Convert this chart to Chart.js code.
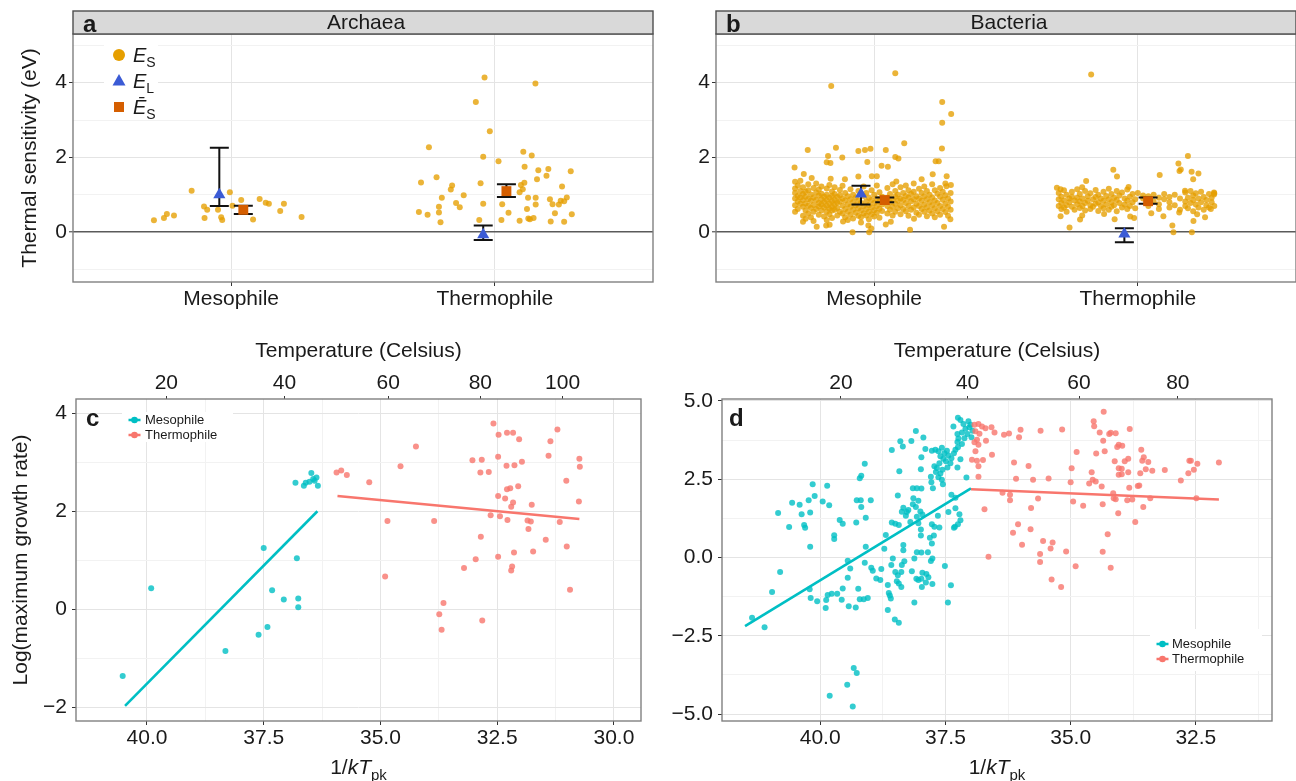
<!DOCTYPE html>
<html>
<head>
<meta charset="utf-8">
<script src="https://cdn.jsdelivr.net/npm/chart.js@4.4.1/dist/chart.umd.min.js"></script>
<style>
html,body{margin:0;padding:0;background:#fff;}
#wrap{position:relative;width:1296px;height:781px;overflow:hidden;background:#fff;}
canvas{position:absolute;}
</style>
</head>
<body>
<div id="wrap">
<canvas id="pa" width="660" height="320" style="left:0;top:0;"></canvas>
<canvas id="pb" width="660" height="320" style="left:643px;top:0;"></canvas>
<canvas id="pc" width="660" height="451" style="left:0;top:330px;"></canvas>
<canvas id="pd" width="636" height="451" style="left:660px;top:330px;"></canvas>
</div>
<script>
// ---------------- DATA ----------------
const categories = ['Mesophile', 'Thermophile'];
const seriesNames = ['Mesophile', 'Thermophile'];
const sensYTicks = [-1, 0, 1, 2, 3, 4, 5];

// panel a (Archaea): [jittered category position, E_S]
const archaeaMesoES = [[0.707,0.32],[0.745,0.38],[0.756,0.49],[0.783,0.45],[0.850,1.11],[0.897,0.69],[0.909,0.60],[0.899,0.38],[0.950,0.60],[0.962,0.40],[0.966,0.33],[0.995,1.07],[1.005,0.71],[1.038,0.86],[1.083,0.34],[1.108,0.89],[1.131,0.79],[1.143,0.76],[1.186,0.57],[1.200,0.76],[1.267,0.41]];
const archaeaThermoES = [[1.961,4.14],[2.154,3.98],[1.928,3.48],[1.981,2.70],[1.750,2.27],[1.956,2.02],[2.014,1.90],[2.108,2.15],[2.140,2.05],[2.113,1.75],[2.165,1.66],[2.203,1.69],[2.288,1.63],[2.160,1.42],[2.196,1.51],[1.720,1.33],[1.779,1.47],[1.838,1.25],[1.833,1.14],[1.946,1.31],[2.112,1.32],[2.099,1.26],[2.106,1.15],[2.094,1.07],[2.255,1.22],[1.799,0.92],[1.882,0.99],[1.853,0.78],[1.867,0.67],[1.788,0.68],[1.788,0.53],[1.712,0.54],[1.745,0.47],[1.794,0.27],[1.956,0.76],[1.941,0.33],[2.028,0.75],[2.052,0.52],[2.025,0.33],[2.094,0.31],[2.126,0.92],[2.155,0.92],[2.122,0.62],[2.155,0.74],[2.127,0.37],[2.147,0.38],[2.133,0.35],[2.209,0.88],[2.219,0.75],[2.243,0.74],[2.250,0.84],[2.263,0.83],[2.273,0.93],[2.228,0.51],[2.292,0.48],[2.212,0.29],[2.263,0.28]];
// [position, estimate, lower, upper]
const archaeaEL = [[0.955,1.00,0.70,2.26],[1.956,-0.07,-0.21,0.18]];
const archaeaMeanES = [[1.046,0.60,0.49,0.71],[2.044,1.10,0.94,1.28]];

// panel b (Bacteria)
const bacteriaMesoES = [[1.080,4.25],[0.837,3.91],[1.258,3.48],[1.292,3.16],[1.258,2.93],[1.114,2.38],[0.748,2.20],[0.855,2.26],[0.940,2.17],[0.965,2.20],[0.986,2.23],[1.044,2.20],[1.257,2.24],[0.825,2.04],[0.879,2.00],[0.820,1.87],[0.834,1.85],[0.974,1.88],[1.080,2.01],[1.092,1.97],[1.233,1.90],[1.245,1.90],[0.698,1.73],[1.028,1.78],[1.052,1.75],[0.733,1.56],[0.763,1.45],[0.991,1.50],[1.010,1.50],[0.940,1.49],[1.222,1.55],[1.275,1.50],[1.084,1.36],[1.180,1.42],[0.835,1.43],[0.889,1.42],[1.291,1.26],[1.274,1.23],[0.918,0.00],[0.981,0.00],[0.978,0.18],[0.989,0.10],[1.136,0.07],[1.265,0.15],[0.782,0.15],[0.818,0.18],[0.831,0.20],[0.882,0.29],[0.950,0.26],[1.044,0.21],[1.063,0.28],[0.730,0.28],[1.289,0.35],[1.151,0.36],
[0.70,1.35],[0.70,1.17],[0.70,1.05],[0.70,0.90],[0.70,0.72],[0.70,0.55],[0.71,1.25],[0.71,0.97],[0.71,0.82],[0.71,0.62],[0.72,1.38],[0.72,1.10],[0.72,0.93],[0.72,0.76],[0.73,1.20],[0.73,1.02],[0.73,0.86],[0.73,0.68],[0.73,0.44],[0.74,1.08],[0.74,0.95],[0.74,0.77],[0.74,0.58],[0.74,0.36],[0.75,1.28],[0.75,1.12],[0.75,0.89],[0.75,0.71],[0.75,0.50],[0.76,1.01],[0.76,0.84],[0.76,0.65],[0.76,0.40],[0.77,1.18],[0.77,0.93],[0.77,0.73],[0.77,0.55],[0.77,0.30],[0.78,1.30],[0.78,1.06],[0.78,0.86],[0.78,0.62],[0.79,1.14],[0.79,0.98],[0.79,0.78],[0.79,0.69],[0.79,0.47],[0.80,1.22],[0.80,1.03],[0.80,0.88],[0.80,0.74],[0.80,0.58],[0.81,0.95],[0.81,0.81],[0.81,0.66],[0.81,0.42],[0.82,1.17],[0.82,1.00],[0.82,0.86],[0.82,0.71],[0.82,0.55],[0.82,0.33],[0.83,1.26],[0.83,0.92],[0.83,0.77],[0.83,0.63],[0.83,0.48],[0.84,1.09],[0.84,0.97],[0.84,0.83],[0.84,0.68],[0.84,0.58],[0.84,0.38],[0.85,1.20],[0.85,1.02],[0.85,0.87],[0.85,0.74],[0.85,0.60],[0.86,0.94],[0.86,0.79],[0.86,0.65],[0.86,0.45],[0.87,1.13],[0.87,0.99],[0.87,0.82],[0.87,0.55],[0.88,1.24],[0.88,0.90],[0.88,0.71],[0.88,0.50],[0.89,1.05],[0.89,0.85],[0.89,0.62],[0.89,0.40],[0.90,0.96],[0.90,0.75],[0.90,0.55],[0.90,0.33],[0.91,1.15],[0.91,0.88],[0.91,0.68],[0.91,0.47],[0.92,1.00],[0.92,0.80],[0.92,0.60],[0.92,0.37],[0.93,0.93],[0.93,0.72],[0.93,0.52],[0.94,1.10],[0.94,0.85],[0.94,0.64],[0.94,0.44],[0.95,0.78],[0.95,0.58],[0.95,0.40],[0.96,1.22],[0.96,0.97],[0.96,0.70],[0.96,0.50],[0.97,1.05],[0.97,0.83],[0.97,0.62],[0.97,0.45],[0.98,0.92],[0.98,0.73],[0.98,0.55],[0.98,0.35],[0.99,1.12],[0.99,0.86],[0.99,0.66],[0.99,0.48],[1.00,1.00],[1.00,0.78],[1.00,0.59],[1.00,0.42],[1.01,1.25],[1.01,0.90],[1.01,0.70],[1.01,0.52],[1.02,1.07],[1.02,0.82],[1.02,0.63],[1.02,0.39],[1.03,0.95],[1.03,0.74],[1.03,0.57],[1.05,1.18],[1.05,0.92],[1.05,0.70],[1.05,0.50],[1.06,1.02],[1.06,0.80],[1.06,0.60],[1.07,1.28],[1.07,0.88],[1.07,0.68],[1.07,0.45],[1.08,1.10],[1.08,0.95],[1.08,0.76],[1.08,0.55],[1.09,1.00],[1.09,0.84],[1.09,0.64],[1.10,1.20],[1.10,0.90],[1.10,0.72],[1.10,0.48],[1.11,1.05],[1.11,0.86],[1.11,0.62],[1.12,1.25],[1.12,0.97],[1.12,0.78],[1.12,0.56],[1.13,1.12],[1.13,0.92],[1.13,0.70],[1.13,0.44],[1.14,1.02],[1.14,0.83],[1.14,0.60],[1.15,1.30],[1.15,1.08],[1.15,0.88],[1.15,0.66],[1.16,0.96],[1.16,0.76],[1.16,0.52],[1.17,1.16],[1.17,0.90],[1.17,0.70],[1.17,0.47],[1.18,1.05],[1.18,0.84],[1.18,0.62],[1.19,1.22],[1.19,0.96],[1.19,0.74],[1.19,0.55],[1.20,1.10],[1.20,0.88],[1.20,0.67],[1.20,0.43],[1.21,1.00],[1.21,0.80],[1.21,0.58],[1.22,1.28],[1.22,0.93],[1.22,0.72],[1.22,0.50],[1.23,1.12],[1.23,0.85],[1.23,0.64],[1.23,0.40],[1.24,1.03],[1.24,0.78],[1.24,0.56],[1.25,1.18],[1.25,0.95],[1.25,0.70],[1.25,0.47],[1.26,1.08],[1.26,0.87],[1.26,0.62],[1.27,1.30],[1.27,0.99],[1.27,0.76],[1.27,0.54],[1.28,0.90],[1.28,0.68],[1.28,0.44],[1.29,1.05],[1.29,0.82],[1.29,0.60]];
const bacteriaThermoES = [[1.823,4.22],[2.190,2.04],[2.154,1.84],[2.163,1.68],[2.158,1.64],[2.204,1.62],[2.230,1.57],[2.210,1.42],[1.907,1.67],[1.921,1.49],[1.804,1.37],[2.083,1.53],[1.693,1.19],[1.707,1.15],[1.789,1.20],[1.965,1.21],[2.179,1.11],[2.289,1.06],[2.289,1.01],[1.741,0.13],[2.131,0.18],[2.135,0.00],[2.205,0.00],[2.211,0.30],[1.707,0.43],[1.781,0.34],[1.789,0.45],[1.872,0.49],[1.912,0.35],[1.971,0.42],[1.986,0.38],[2.051,0.51],[2.097,0.43],[2.157,0.53],[2.225,0.48],[2.255,0.40],[2.277,0.62],
[1.70,1.05],[1.70,0.88],[1.70,0.70],[1.71,0.95],[1.71,0.78],[1.71,0.62],[1.72,1.12],[1.72,0.85],[1.72,0.66],[1.73,1.00],[1.73,0.72],[1.73,0.55],[1.74,0.90],[1.74,0.80],[1.75,1.08],[1.75,0.95],[1.75,0.68],[1.76,0.85],[1.76,0.60],[1.77,1.15],[1.77,0.92],[1.77,0.75],[1.78,1.02],[1.78,0.82],[1.78,0.65],[1.79,0.90],[1.79,0.70],[1.80,1.10],[1.80,0.78],[1.80,0.58],[1.81,0.96],[1.81,0.84],[1.82,1.04],[1.82,0.72],[1.82,0.62],[1.83,0.88],[1.83,0.68],[1.84,1.13],[1.84,0.94],[1.84,0.76],[1.85,1.00],[1.85,0.80],[1.85,0.57],[1.86,0.90],[1.86,0.70],[1.87,1.08],[1.87,0.84],[1.87,0.64],[1.88,0.97],[1.88,0.74],[1.89,1.16],[1.89,0.88],[1.89,0.60],[1.90,1.02],[1.90,0.80],[1.90,0.68],[1.91,0.92],[1.91,0.72],[1.92,1.10],[1.92,0.86],[1.92,0.56],[1.93,0.98],[1.93,0.78],[1.94,1.06],[1.94,0.66],[1.95,0.90],[1.95,0.74],[1.96,1.14],[1.96,0.84],[1.96,0.62],[1.97,0.95],[1.97,0.70],[1.98,1.02],[1.98,0.80],[1.99,0.88],[1.99,0.64],[2.00,1.05],[2.02,0.90],[2.02,0.98],[2.04,0.96],[2.04,0.86],[2.04,0.70],[2.06,1.00],[2.06,0.82],[2.08,0.92],[2.08,0.75],[2.08,0.62],[2.10,1.02],[2.10,0.88],[2.12,0.94],[2.12,0.80],[2.12,0.66],[2.14,1.00],[2.14,0.72],[2.16,0.90],[2.16,0.60],[2.18,1.06],[2.18,0.82],[2.18,0.70],[2.19,0.92],[2.19,0.64],[2.20,1.10],[2.20,0.78],[2.21,0.98],[2.21,0.86],[2.21,0.56],[2.22,0.74],[2.22,1.04],[2.23,0.90],[2.23,0.66],[2.24,1.08],[2.24,0.80],[2.25,0.94],[2.25,0.60],[2.26,0.86],[2.26,0.72],[2.27,1.02],[2.27,0.66],[2.28,0.92],[2.28,0.80],[2.29,1.04],[2.29,0.70]];
const bacteriaEL = [[0.950,1.02,0.74,1.24],[1.949,-0.05,-0.27,0.11]];
const bacteriaMeanES = [[1.040,0.86,0.80,0.93],[2.039,0.83,0.76,0.93]];

// panel c: [1/kT_pk, log(max growth rate)]
const cMeso = [[40.52,-1.36],[39.91,0.43],[38.32,-0.85],[37.61,-0.52],[37.42,-0.36],[37.50,1.25],[37.32,0.39],[37.07,0.20],[36.79,1.04],[36.76,0.22],[36.76,0.04],[36.82,2.58],[36.64,2.52],[36.60,2.58],[36.48,2.78],[36.44,2.66],[36.37,2.69],[36.41,2.62],[36.34,2.52],[36.52,2.60]];
const cThermo = [[35.94,2.79],[35.84,2.83],[35.72,2.74],[35.24,2.59],[34.57,2.92],[34.24,3.32],[34.85,1.80],[34.90,0.67],[33.85,1.80],[33.74,-0.10],[33.65,0.13],[33.69,-0.42],[33.21,0.84],[32.96,1.02],[32.85,1.48],[32.82,-0.23],[33.03,3.04],[32.83,3.05],[32.86,2.79],[32.68,2.80],[32.58,3.79],[32.47,3.56],[32.29,3.60],[32.16,3.60],[32.03,3.47],[32.48,3.11],[32.30,2.93],[32.13,2.94],[31.97,3.01],[32.29,2.45],[32.22,2.47],[32.05,2.51],[32.48,2.31],[32.33,2.26],[32.16,2.18],[32.20,2.09],[31.76,2.13],[32.64,1.92],[32.44,1.90],[32.28,1.82],[31.85,1.81],[31.78,1.79],[31.83,1.64],[31.46,1.42],[31.73,1.18],[32.14,1.16],[32.48,1.07],[32.18,0.87],[32.20,0.79],[31.40,3.13],[31.36,3.43],[31.21,3.67],[31.02,2.62],[31.16,1.78],[31.01,1.28],[30.74,3.07],[30.73,2.91],[30.75,2.20],[30.94,0.40]];
const cMesoFit = [[40.47,-1.97],[36.35,2.00]];
const cThermoFit = [[35.92,2.31],[30.74,1.84]];

// panel d
const dMeso = [[39.81,-4.41],[39.46,-4.06],[39.33,-3.53],[39.27,-3.69],[39.35,-4.76],[41.36,-1.92],[41.11,-2.23],[40.96,-1.10],[40.80,-0.46],[40.84,1.42],[40.62,0.97],[40.56,1.75],[40.41,1.68],[40.37,1.38],[40.32,1.04],[40.30,0.95],[40.23,1.83],[40.20,1.44],[40.15,2.34],[40.11,1.96],[39.95,1.79],[39.86,2.29],[39.82,1.67],[40.20,0.34],[40.21,-1.01],[40.19,-1.29],[40.06,-1.40],[39.89,-1.61],[39.88,-1.36],[39.85,-1.20],[39.77,-1.16],[39.66,-1.16],[39.57,-1.35],[39.55,-0.99],[39.43,-1.56],[39.29,-1.60],[39.24,-1.00],[39.45,-0.10],[39.45,-0.65],[39.40,-0.35],[39.21,-1.33],[39.13,-1.33],[39.05,-1.29],[39.72,0.71],[39.72,0.59],[39.61,1.20],[39.55,1.08],[39.28,1.12],[39.09,1.27],[39.27,1.83],[39.19,1.83],[39.18,1.61],[38.99,1.83],[39.21,2.53],[39.18,2.61],[39.11,2.99],[39.09,0.34],[39.11,-0.17],[38.98,-0.33],[38.95,-0.42],[38.88,-0.67],[38.80,-0.72],[38.78,-0.37],[38.72,0.28],[38.69,0.72],[38.65,-0.88],[38.63,-1.13],[38.59,-1.31],[38.61,-1.21],[38.65,-1.68],[38.51,-1.98],[38.43,-2.08],[38.58,-0.24],[38.55,-0.03],[38.50,-0.46],[38.45,-0.57],[38.47,-0.76],[38.43,-0.83],[38.38,-0.94],[38.37,-0.24],[38.34,0.40],[38.34,0.23],[38.32,-0.12],[38.38,-0.46],[38.57,1.12],[38.50,1.08],[38.43,1.04],[38.45,1.98],[38.42,2.75],[38.57,3.43],[38.40,3.71],[38.35,3.54],[38.18,3.72],[38.09,4.04],[37.94,3.83],[37.90,3.46],[37.98,3.20],[37.99,2.82],[38.15,2.21],[38.07,2.21],[37.98,2.20],[38.14,1.89],[38.04,1.81],[38.15,1.70],[38.09,1.61],[38.24,1.52],[38.27,1.45],[38.34,1.59],[38.37,1.46],[38.29,1.33],[38.20,1.13],[38.07,1.30],[38.00,1.47],[37.96,1.37],[38.04,1.09],[37.99,0.89],[37.99,0.70],[37.77,1.06],[37.72,0.98],[37.81,0.63],[37.77,0.45],[37.73,0.70],[37.85,0.17],[37.98,0.16],[38.07,0.17],[38.12,-0.03],[37.79,-0.11],[37.76,-0.03],[38.17,-0.44],[38.08,-0.68],[38.04,-0.72],[37.98,-0.68],[37.96,-0.49],[37.88,-0.53],[37.97,-0.94],[37.89,-0.80],[37.84,-0.63],[37.76,-0.85],[38.12,-1.44],[37.51,-0.27],[37.39,-0.89],[37.45,-1.44],[37.65,1.33],[37.62,0.96],[37.78,2.40],[37.75,2.21],[37.79,2.58],[37.69,2.73],[37.64,2.56],[37.60,2.68],[37.57,2.48],[37.55,2.34],[37.72,2.91],[37.67,2.86],[37.62,3.01],[37.56,2.80],[37.46,2.87],[37.77,3.41],[37.70,3.44],[37.64,3.39],[37.57,3.50],[37.52,3.33],[37.47,3.41],[37.60,3.23],[37.54,3.15],[37.44,3.26],[37.38,3.17],[37.33,3.33],[37.30,3.44],[37.25,3.52],[37.49,3.07],[37.40,3.01],[37.26,2.87],[37.20,3.14],[37.26,3.69],[37.17,3.62],[37.08,2.55],[37.38,2.00],[37.30,1.91],[37.44,1.45],[37.30,1.57],[37.22,1.38],[37.20,1.19],[37.25,1.06],[37.31,0.98],[37.33,0.95],[37.34,4.18],[37.25,4.46],[37.20,4.39],[37.14,4.26],[37.04,4.35],[37.02,4.16],[37.10,4.11],[37.26,3.94],[37.17,3.99],[37.06,3.94],[37.24,3.80],[37.12,3.81],[36.98,3.84],[36.96,4.05],[37.00,4.24]];
const dThermo = [[36.92,4.24],[36.84,4.26],[36.77,4.18],[36.70,4.13],[36.90,4.03],[36.82,3.95],[36.87,3.76],[36.92,3.68],[36.84,3.60],[36.69,3.73],[36.90,3.39],[36.97,3.12],[36.87,3.09],[36.75,3.11],[36.84,2.91],[36.84,2.58],[36.72,1.54],[36.64,0.02],[36.58,4.16],[36.52,3.99],[36.57,3.28],[36.33,3.92],[36.23,3.96],[36.03,3.84],[36.00,4.08],[35.60,4.05],[35.17,4.09],[36.13,3.03],[35.84,2.92],[36.09,2.51],[35.75,2.48],[35.44,2.52],[36.36,2.07],[36.21,2.00],[36.21,1.83],[35.65,1.88],[35.79,1.58],[36.05,1.06],[36.15,0.79],[35.80,0.90],[35.97,0.41],[35.55,0.53],[35.36,0.48],[35.40,0.29],[35.61,0.11],[35.61,-0.14],[35.09,0.19],[35.38,-0.70],[35.19,-0.94],[34.90,-0.28],[34.98,2.85],[34.88,3.37],[35.00,2.40],[34.95,1.79],[34.75,1.65],[34.58,2.72],[34.63,2.36],[34.56,2.48],[34.50,2.43],[34.38,2.27],[34.49,3.32],[34.54,4.35],[34.53,4.19],[34.34,4.65],[34.42,3.99],[34.35,3.73],[34.32,3.39],[34.23,3.94],[34.20,3.98],[34.10,3.97],[34.07,3.53],[34.04,3.60],[33.97,3.57],[33.82,4.10],[34.36,1.70],[34.15,2.05],[34.14,1.89],[34.10,1.86],[34.05,1.41],[34.26,0.74],[34.36,0.18],[34.20,-0.33],[34.12,3.07],[34.04,2.85],[33.98,2.83],[34.04,2.64],[33.98,2.66],[33.92,3.07],[33.85,3.15],[33.85,2.72],[33.83,2.23],[33.87,1.83],[33.77,1.85],[33.71,1.13],[33.66,2.28],[33.63,2.30],[33.61,2.69],[33.59,3.44],[33.54,3.20],[33.57,3.09],[33.45,3.05],[33.50,2.82],[33.37,2.77],[33.55,1.61],[33.41,1.89],[33.12,2.79],[32.80,2.46],[32.65,2.69],[32.54,2.80],[32.63,3.09],[32.60,3.09],[32.47,2.99],[32.49,1.89],[32.04,3.03]];
const dMesoFit = [[41.50,-2.19],[36.99,2.21]];
const dThermoFit = [[36.99,2.18],[32.04,1.85]];

// axis ticks
const cXTicks = [30, 31.25, 32.5, 33.75, 35, 36.25, 37.5, 38.75, 40];
const dXTicks = [31.25, 32.5, 33.75, 35, 36.25, 37.5, 38.75, 40];
const cYTicks = [-2, -1, 0, 1, 2, 3, 4];
const dYTicks = [-5, -3.75, -2.5, -1.25, 0, 1.25, 2.5, 3.75, 5];
const cTempTicks = [20, 40, 60, 80, 100];
const dTempTicks = [20, 40, 60, 80];

// ---------------- STYLE / HELPERS ----------------
const FONT = "'Liberation Sans', Arial, Helvetica, sans-serif";
const INK = '#1a1a1a';
const GRID_MAJOR = '#e4e4e4';
const GRID_MINOR = '#f2f2f2';
const FRAME = '#808080';
const TICKC = '#333333';
const MINUS = '\u2212';
const BOLTZ = 8.617333e-5;
const invKT = c => 1 / (BOLTZ * (c + 273.15));
const fmt = (v, d) => (v < 0 ? MINUS : '') + Math.abs(v).toFixed(d);
const isMult = (v, s) => Math.abs(v / s - Math.round(v / s)) < 1e-6;
const toXY = arr => arr.map(p => ({ x: p[0], y: p[1] }));
const tickFont = { family: FONT, size: 21 };

function richText(ctx, segs, x, y, align) {
  let w = 0;
  for (const s of segs) { ctx.font = s.font; s.w = ctx.measureText(s.t).width; w += s.w; }
  let cx = align === 'center' ? x - w / 2 : x;
  ctx.textAlign = 'left'; ctx.textBaseline = 'alphabetic';
  for (const s of segs) { ctx.font = s.font; ctx.fillText(s.t, cx, y + (s.dy || 0)); cx += s.w; }
}
function vText(ctx, text, x, y) {
  ctx.save(); ctx.translate(x, y); ctx.rotate(-Math.PI / 2);
  ctx.font = `21px ${FONT}`; ctx.fillStyle = INK; ctx.textAlign = 'center'; ctx.textBaseline = 'middle';
  ctx.fillText(text, 0, 0); ctx.restore();
}
const base = {
  responsive: false, animation: false, events: [],
  plugins: { legend: { display: false }, tooltip: { enabled: false } }
};

// ---------------- PANELS a / b ----------------
function sensitivityChart(id, cfg) {
  const deco = {
    id: 'deco',
    afterDatasetDraw(chart, args) {
      if (args.index !== 0) return;
      const { ctx, scales: { x, y } } = chart;
      ctx.save(); ctx.strokeStyle = '#111'; ctx.lineWidth = 2;
      for (const [xv, v, lo, hi] of [...cfg.el, ...cfg.mean]) {
        const px = x.getPixelForValue(xv), pl = y.getPixelForValue(lo), ph = y.getPixelForValue(hi);
        ctx.beginPath();
        ctx.moveTo(px, pl); ctx.lineTo(px, ph);
        ctx.moveTo(px - 9.5, pl); ctx.lineTo(px + 9.5, pl);
        ctx.moveTo(px - 9.5, ph); ctx.lineTo(px + 9.5, ph);
        ctx.stroke();
      }
      ctx.restore();
    },
    afterDraw(chart) {
      const { ctx, chartArea: a } = chart;
      ctx.save();
      ctx.strokeStyle = FRAME; ctx.lineWidth = 1.4;
      ctx.strokeRect(a.left, a.top, a.right - a.left, a.bottom - a.top);
      ctx.fillStyle = '#d9d9d9'; ctx.fillRect(a.left, 11, a.right - a.left, a.top - 11);
      ctx.strokeStyle = '#4d4d4d'; ctx.lineWidth = 1.4; ctx.strokeRect(a.left, 11, a.right - a.left, a.top - 11);
      ctx.fillStyle = INK; ctx.font = `21px ${FONT}`; ctx.textAlign = 'center'; ctx.textBaseline = 'middle';
      ctx.fillText(cfg.strip, (a.left + a.right) / 2 + 3, 23);
      ctx.font = `bold 24px ${FONT}`; ctx.textAlign = 'left'; ctx.textBaseline = 'alphabetic';
      ctx.fillText(cfg.letter, a.left + 10, 32);
      if (cfg.yTitle) vText(ctx, cfg.yTitle, 30, (a.top + a.bottom) / 2);
      if (cfg.legend) {
        ctx.fillStyle = '#fff'; ctx.fillRect(104, 40, 54, 78);
        ctx.fillStyle = '#E69F00'; ctx.beginPath(); ctx.arc(119, 55, 6, 0, 2 * Math.PI); ctx.fill();
        ctx.fillStyle = '#3B5BD5'; ctx.beginPath(); ctx.moveTo(119, 74); ctx.lineTo(125.5, 85.5); ctx.lineTo(112.5, 85.5); ctx.closePath(); ctx.fill();
        ctx.fillStyle = '#D55E00'; ctx.fillRect(114, 102, 10, 10);
        ctx.fillStyle = INK;
        const it = `italic 20px ${FONT}`, sub = `14px ${FONT}`;
        richText(ctx, [{ t: 'E', font: it }, { t: 'S', font: sub, dy: 5 }], 133, 62, 'left');
        richText(ctx, [{ t: 'E', font: it }, { t: 'L', font: sub, dy: 5 }], 133, 88, 'left');
        richText(ctx, [{ t: '\u0112', font: it }, { t: 'S', font: sub, dy: 5 }], 133, 114, 'left');
      }
      ctx.restore();
    }
  };
  return new Chart(document.getElementById(id), {
    type: 'scatter',
    data: { datasets: [
      { data: toXY([...cfg.meso, ...cfg.thermo]), backgroundColor: 'rgba(230,159,0,0.78)', borderWidth: 0, pointRadius: 3, order: 2 },
      { data: toXY(cfg.el), pointStyle: 'triangle', backgroundColor: '#3B5BD5', borderWidth: 0, pointRadius: 7, order: 1 },
      { data: toXY(cfg.mean), pointStyle: 'rect', backgroundColor: '#D55E00', borderWidth: 0, pointRadius: 7, order: 0 }
    ]},
    options: {
      ...base,
      layout: { padding: { top: 34, right: 4, left: 0, bottom: 0 } },
      scales: {
        x: { type: 'linear', bounds: 'data', min: 0.4, max: 2.6,
          afterBuildTicks: s => { s.ticks = categories.map((c, i) => ({ value: i + 1 })); },
          afterFit: s => { s.height = 38; },
          ticks: { callback: v => categories[Math.round(v) - 1], font: tickFont, color: INK, padding: 1, autoSkip: false, maxRotation: 0, minRotation: 0 },
          grid: { color: GRID_MAJOR, lineWidth: 1, tickColor: TICKC, tickLength: 4, tickWidth: 1 },
          border: { display: false } },
        y: { type: 'linear', bounds: 'data', min: -1.33, max: 5.30,
          afterBuildTicks: s => { s.ticks = sensYTicks.map(v => ({ value: v })); },
          afterFit: s => { s.width = 73; },
          ticks: { callback: v => (isMult(v, 2) ? fmt(v, 0) : ''), font: tickFont, color: INK, padding: 2, autoSkip: false },
          grid: {
            color: c => (c.tick && c.tick.value === 0) ? '#5a5a5a' : (c.tick && isMult(c.tick.value, 2) ? GRID_MAJOR : GRID_MINOR),
            lineWidth: c => (c.tick && c.tick.value === 0) ? 1.6 : 1,
            tickColor: c => (c.tick && isMult(c.tick.value, 2)) ? TICKC : 'rgba(0,0,0,0)',
            tickLength: 4, tickWidth: 1 },
          border: { display: false } }
      }
    },
    plugins: [deco]
  });
}

sensitivityChart('pa', { meso: archaeaMesoES, thermo: archaeaThermoES, el: archaeaEL, mean: archaeaMeanES,
  strip: 'Archaea', letter: 'a', yTitle: 'Thermal sensitivity (eV)', legend: true });
sensitivityChart('pb', { meso: bacteriaMesoES, thermo: bacteriaThermoES, el: bacteriaEL, mean: bacteriaMeanES,
  strip: 'Bacteria', letter: 'b', yTitle: null, legend: false });

// ---------------- PANELS c / d ----------------
function growthChart(id, cfg) {
  const deco = {
    id: 'deco2',
    afterDraw(chart) {
      const { ctx, chartArea: a } = chart;
      ctx.save();
      ctx.strokeStyle = FRAME; ctx.lineWidth = 1.4;
      ctx.strokeRect(a.left, a.top, a.right - a.left, a.bottom - a.top);
      ctx.fillStyle = INK; ctx.font = `bold 24px ${FONT}`; ctx.textAlign = 'left'; ctx.textBaseline = 'alphabetic';
      ctx.fillText(cfg.letter, a.left + cfg.letterDx, a.top + 27);
      const L = cfg.legend;
      ctx.fillStyle = '#fff'; ctx.fillRect(L.x0, L.y0, L.w, L.h);
      seriesNames.forEach((name, i) => {
        const col = i === 0 ? '#00BFC4' : '#F8766D';
        const yy = L.rows[i];
        ctx.strokeStyle = col; ctx.lineWidth = 2.5;
        ctx.beginPath(); ctx.moveTo(L.mx - 6, yy); ctx.lineTo(L.mx + 6, yy); ctx.stroke();
        ctx.fillStyle = col; ctx.beginPath(); ctx.arc(L.mx, yy, 3.3, 0, 2 * Math.PI); ctx.fill();
        ctx.fillStyle = INK; ctx.font = `13px ${FONT}`; ctx.textAlign = 'left'; ctx.textBaseline = 'middle';
        ctx.fillText(name, L.tx, yy);
      });
      const cx = (a.left + a.right) / 2;
      ctx.fillStyle = INK; ctx.font = `21px ${FONT}`; ctx.textAlign = 'center'; ctx.textBaseline = 'middle';
      ctx.fillText('Temperature (Celsius)', cx, 21);
      const f = `21px ${FONT}`, fi = `italic 21px ${FONT}`, fs = `15px ${FONT}`;
      richText(ctx, [{ t: '1/', font: f }, { t: 'kT', font: fi }, { t: 'pk', font: fs, dy: 6 }], cx, 444, 'center');
      if (cfg.yTitle) vText(ctx, cfg.yTitle, 21, (a.top + a.bottom) / 2);
      ctx.restore();
    }
  };
  const xGrid = {
    color: c => (c.tick && isMult(c.tick.value, 2.5)) ? GRID_MAJOR : GRID_MINOR,
    tickColor: c => (c.tick && isMult(c.tick.value, 2.5)) ? TICKC : 'rgba(0,0,0,0)',
    lineWidth: 1, tickLength: 4, tickWidth: 1 };
  return new Chart(document.getElementById(id), {
    type: 'scatter',
    data: { datasets: [
      { data: toXY(cfg.meso), backgroundColor: 'rgba(0,191,196,0.8)', borderWidth: 0, pointRadius: 3, order: 3 },
      { data: toXY(cfg.thermo), backgroundColor: 'rgba(248,118,109,0.8)', borderWidth: 0, pointRadius: 3, order: 2 },
      { data: toXY(cfg.mesoFit), showLine: true, borderColor: '#00BFC4', borderWidth: 2.6, pointRadius: 0, fill: false, order: 1 },
      { data: toXY(cfg.thermoFit), showLine: true, borderColor: '#F8766D', borderWidth: 2.6, pointRadius: 0, fill: false, order: 0 }
    ]},
    options: {
      ...base,
      layout: { padding: { top: 0, right: cfg.padRight, left: 0, bottom: 0 } },
      scales: {
        x: { type: 'linear', position: 'bottom', reverse: true, bounds: 'data', min: cfg.xMin, max: cfg.xMax,
          afterBuildTicks: s => { s.ticks = cfg.xTicks.map(v => ({ value: v })); },
          afterFit: s => { s.height = 60; },
          ticks: { callback: v => (isMult(v, 2.5) ? v.toFixed(1) : ''), font: tickFont, color: INK, padding: 1, autoSkip: false, maxRotation: 0, minRotation: 0 },
          grid: xGrid, border: { display: false } },
        x2: { type: 'linear', position: 'top', reverse: true, bounds: 'data', min: cfg.xMin, max: cfg.xMax,
          afterBuildTicks: s => { s.ticks = cfg.temps.map(t => ({ value: invKT(t) })); },
          afterFit: s => { s.height = 69; },
          ticks: { callback: (v, i) => String(cfg.temps[i]), font: tickFont, color: INK, padding: 0, autoSkip: false, maxRotation: 0, minRotation: 0 },
          grid: { drawOnChartArea: false, tickColor: TICKC, tickLength: 3, tickWidth: 1 },
          border: { display: false } },
        y: { type: 'linear', bounds: 'data', min: cfg.yMin, max: cfg.yMax,
          afterBuildTicks: s => { s.ticks = cfg.yTicks.map(v => ({ value: v })); },
          afterFit: s => { s.width = cfg.yAxisWidth; },
          ticks: { callback: v => (isMult(v, cfg.yStep) ? fmt(v, cfg.yDigits) : ''), font: tickFont, color: INK, padding: 5, autoSkip: false },
          grid: {
            color: c => (c.tick && isMult(c.tick.value, cfg.yStep)) ? GRID_MAJOR : GRID_MINOR,
            tickColor: c => (c.tick && isMult(c.tick.value, cfg.yStep)) ? TICKC : 'rgba(0,0,0,0)',
            lineWidth: 1, tickLength: 4, tickWidth: 1 },
          border: { display: false } }
      }
    },
    plugins: [deco]
  });
}

growthChart('pc', { meso: cMeso, thermo: cThermo, mesoFit: cMesoFit, thermoFit: cThermoFit,
  xMin: 29.42, xMax: 41.52, yMin: -2.28, yMax: 4.29, xTicks: cXTicks, yTicks: cYTicks, yStep: 2, yDigits: 0,
  temps: cTempTicks, yAxisWidth: 76, padRight: 19, letter: 'c', letterDx: 10,
  legend: { x0: 122, y0: 82, w: 111, h: 30, mx: 134.5, rows: [90, 105], tx: 145 },
  yTitle: 'Log(maximum growth rate)' });
growthChart('pd', { meso: dMeso, thermo: dThermo, mesoFit: dMesoFit, thermoFit: dThermoFit,
  xMin: 30.98, xMax: 41.96, yMin: -5.22, yMax: 5.06, xTicks: dXTicks, yTicks: dYTicks, yStep: 2.5, yDigits: 1,
  temps: dTempTicks, yAxisWidth: 62, padRight: 24, letter: 'd', letterDx: 7,
  legend: { x0: 490, y0: 299, w: 112, h: 42, mx: 502.5, rows: [314, 329], tx: 512 },
  yTitle: null });
</script>
</body>
</html>
